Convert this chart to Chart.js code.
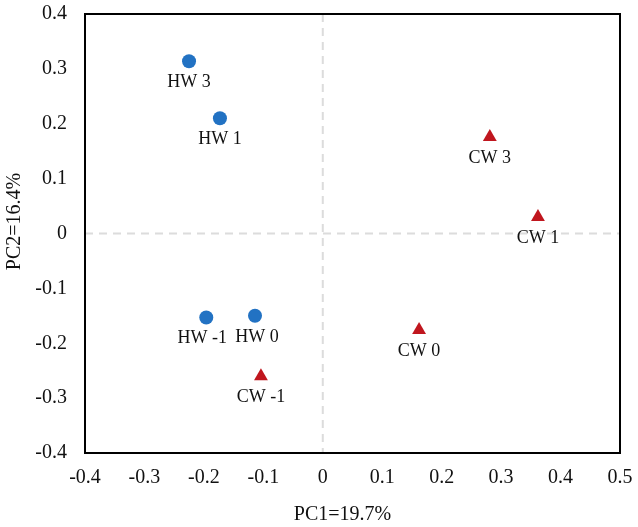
<!DOCTYPE html>
<html lang="en">
<head>
  <meta charset="UTF-8">
  <title>PCA</title>
  <script src="https://cdn.jsdelivr.net/npm/chart.js@4.4.2/dist/chart.umd.min.js"></script>
  <style>
    body{ margin:0; background:#fff; }
    .wrap{ width:638px; height:527px; }
  </style>
</head>
<body>
<div class="wrap"><canvas id="myChart" width="638" height="527"></canvas></div>
<script>
const hwLabels = ['HW 3', 'HW 1', 'HW -1', 'HW 0'];
const hwX = [-0.225, -0.173, -0.196, -0.114];
const hwY = [0.314, 0.210, -0.153, -0.150];

const cwLabels = ['CW 3', 'CW 1', 'CW 0', 'CW -1'];
const cwX = [0.281, 0.362, 0.162, -0.104];
const cwY = [0.176, 0.030, -0.176, -0.260];

const xTitle = 'PC1=19.7%';
const yTitle = 'PC2=16.4%';

const serif = '"Liberation Serif", "DejaVu Serif", serif';

function pts(xs, ys) {
  return xs.map((x, i) => ({ x: x, y: ys[i] }));
}

// zero lines, frame, axis titles and point labels
const extras = {
  id: 'extras',
  beforeDatasetsDraw(chart) {
    const { ctx, chartArea: a, scales } = chart;
    const x0 = scales.x.getPixelForValue(0);
    const y0 = scales.y.getPixelForValue(0);
    ctx.save();
    ctx.strokeStyle = '#dcdcdc';
    ctx.lineWidth = 2;
    ctx.setLineDash([8, 6]);
    ctx.beginPath();
    ctx.moveTo(a.left, y0); ctx.lineTo(a.right, y0);
    ctx.moveTo(x0, a.top); ctx.lineTo(x0, a.bottom);
    ctx.stroke();
    ctx.setLineDash([]);
    ctx.strokeStyle = '#000';
    ctx.lineWidth = 2;
    ctx.strokeRect(a.left, a.top, a.right - a.left, a.bottom - a.top);

    ctx.font = '20px ' + serif;
    ctx.fillStyle = '#111';
    ctx.textAlign = 'center';
    ctx.textBaseline = 'middle';
    ctx.fillText(xTitle, (a.left + a.right) / 2 - 10, 515);
    ctx.translate(15, (a.top + a.bottom) / 2 - 12);
    ctx.rotate(-Math.PI / 2);
    ctx.fillText(yTitle, 0, 0);
    ctx.restore();
  },
  afterDatasetsDraw(chart) {
    const { ctx, scales } = chart;
    const nudge = { 'HW -1': -4, 'HW 0': 2 };
    ctx.save();
    ctx.font = '18px ' + serif;
    ctx.fillStyle = '#111';
    ctx.textAlign = 'center';
    ctx.textBaseline = 'middle';
    chart.data.datasets.forEach(ds => {
      ds.data.forEach((p, i) => {
        const px = scales.x.getPixelForValue(p.x) + (nudge[ds.names[i]] || 0);
        const py = scales.y.getPixelForValue(p.y);
        ctx.fillText(ds.names[i], px, py + 21);
      });
    });
    ctx.restore();
  }
};

const ctx = document.getElementById('myChart').getContext('2d');
const myChart = new Chart(ctx, {
  type: 'scatter',
  data: {
    datasets: [{
      label: 'HW',
      names: hwLabels,
      data: pts(hwX, hwY),
      pointStyle: 'circle',
      pointRadius: 7,
      backgroundColor: '#2272c3',
      borderColor: '#2272c3',
      borderWidth: 0
    }, {
      label: 'CW',
      names: cwLabels,
      data: pts(cwX, cwY),
      pointStyle: 'triangle',
      pointRadius: 8,
      backgroundColor: '#c0161e',
      borderColor: '#c0161e',
      borderWidth: 0
    }]
  },
  options: {
    responsive: false,
    animation: false,
    layout: { padding: { top: 14, right: 18, left: 0, bottom: 0 } },
    plugins: { legend: { display: false }, tooltip: { enabled: false } },
    scales: {
      x: {
        min: -0.4, max: 0.5,
        grid: { display: false, drawTicks: false },
        border: { display: false },
        ticks: {
          stepSize: 0.1, padding: 13, color: '#111',
          font: { family: serif, size: 20 },
          callback: v => Math.round(v * 10) / 10
        },
        afterFit(s) { s.height = 74; s.paddingLeft = 0; s.paddingRight = 0; }
      },
      y: {
        min: -0.4, max: 0.4,
        grid: { display: false, drawTicks: false },
        border: { display: false },
        ticks: {
          stepSize: 0.1, padding: 18, color: '#111',
          font: { family: serif, size: 20 },
          callback: v => Math.round(v * 10) / 10
        },
        afterFit(s) { s.width = 85; s.paddingTop = 0; s.paddingBottom = 0; }
      }
    }
  },
  plugins: [extras]
});
</script>
</body>
</html>
